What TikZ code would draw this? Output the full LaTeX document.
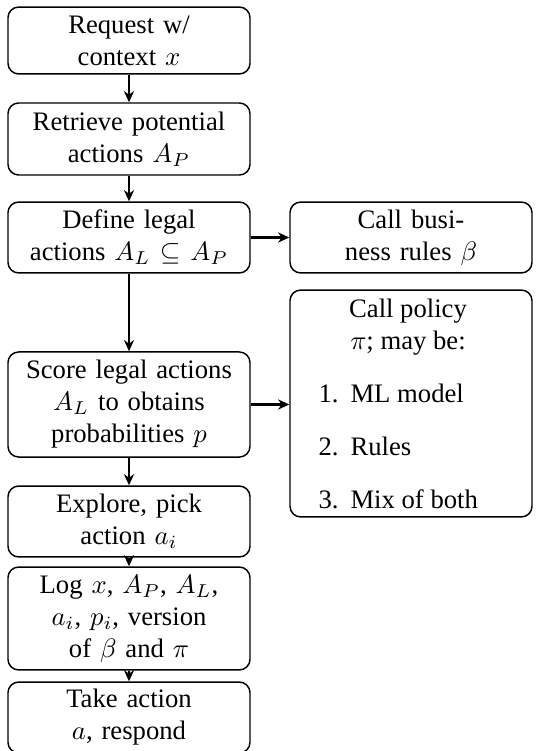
\documentclass[tikz,border=0pt]{standalone}
\usepackage{fontspec}
\setmainfont{Liberation Serif}
\usetikzlibrary{arrows.meta}
\begin{document}
\begin{tikzpicture}[x=0.375pt,y=-0.375pt,
  box/.style={draw, rounded corners=4pt, line width=0.55pt, align=center,
    text width=86pt, minimum width=90.75pt, inner sep=0pt},
  arr/.style={-{Stealth[length=4.2pt,width=3.8pt]}, line width=0.85pt},
  txt/.style={align=center, inner sep=0pt},
  item/.style={anchor=base west, inner sep=0pt}]
\useasboundingbox (0,0) rectangle (535,751);
\node[box, minimum height=25.1pt] (b1) at (129,40.5) {Request w/\\ context $x$};
\node[box, minimum height=27pt] (b2) at (129,139) {Retrieve potential\\ actions $A_P$};
\node[box, minimum height=26.6pt] (b3) at (129,237.5) {Define legal\\ actions $A_L\subseteq A_P$};
\node[box, minimum height=39.4pt] (b4) at (129,404.5) {Score legal actions\\ $A_L$ to obtains\\ probabilities $p$};
\node[box, minimum height=26.6pt] (b5) at (129,521.5) {Explore, pick\\ action $a_i$};
\node[box, minimum height=38.6pt] (b6) at (129,618.5) {Log $x$, $A_P$, $A_L$,\\ $a_i$, $p_i$, version\\ of $\beta$ and $\pi$};
\node[box, minimum height=26.6pt] (b7) at (129,717.5) {Take action\\ $a$, respond};
\node[box, minimum height=26.6pt] (r1) at (411,237.5) {Call busi-\\ ness rules $\beta$};
\node[box, minimum height=85.1pt] (r2) at (411,403.5) {};
\node[txt] (h) at (408,327) {Call policy\\ $\pi$; may be:};
\node[item] (i1) at (318,402) {\makebox[12pt][l]{1.}ML model};
\node[item] (i2) at (318,455) {\makebox[12pt][l]{2.}Rules};
\node[item] (i3) at (318,508) {\makebox[12pt][l]{3.}Mix of both};
\draw[arr] (b1) -- (b2);
\draw[arr] (b2) -- (b3);
\draw[arr] (b3) -- (b4);
\draw[arr] (b4) -- (b5);
\draw[arr] (b5) -- (b6);
\draw[arr] (b6) -- (b7);
\draw[arr] (b3) -- (r1);
\draw[arr] (b4.east) -- (b4.east -| r2.west);
\end{tikzpicture}
\end{document}
